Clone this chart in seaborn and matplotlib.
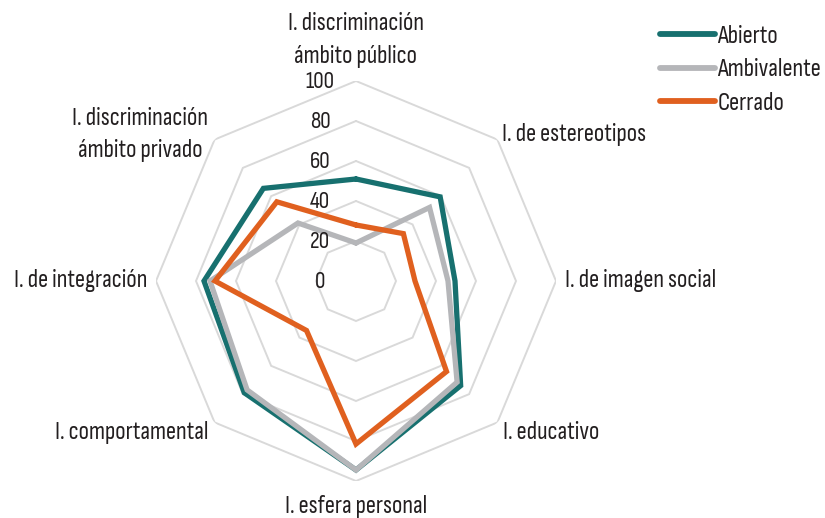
import numpy as np
import pandas as pd
import matplotlib
matplotlib.use("Agg")
import matplotlib.pyplot as plt
import matplotlib.transforms as mtransforms
from matplotlib import font_manager
import seaborn as sns

# Dimensions of the index, clockwise from the top
categorias = [
    "I. discriminación\námbito público",
    "I. de estereotipos",
    "I. de imagen social",
    "I. educativo",
    "I. esfera personal",
    "I. comportamental",
    "I. de integración",
    "I. discriminación\námbito privado",
]
abierto = [51, 59.5, 49.5, 74, 94.5, 79, 76, 65.5]
ambivalente = [19, 52, 46, 71.5, 94.5, 77, 73, 41]
cerrado = [28, 33.5, 29.5, 64, 81.5, 35, 70.5, 56]
grupos = ["Abierto", "Ambivalente", "Cerrado"]
colores = ["#17706f", "#b5b6b9", "#e0601f"]
ticks = [0, 20, 40, 60, 80, 100]

sns.set_theme(style="white")
disponibles = {f.name for f in font_manager.fontManager.ttflist}
preferidas = ["Sofia Sans Condensed", "Fira Sans Extra Condensed", "Roboto Condensed"]
familia = [f for f in preferidas if f in disponibles][:1] + ["DejaVu Sans"]
plt.rcParams["font.family"] = familia
texto = "#231f20"
fs = 18

n = len(categorias)
ang = np.arange(n) * 2 * np.pi / n
ang_c = np.append(ang, 2 * np.pi)

rows = []
for g, vals in zip(grupos, [abierto, ambivalente, cerrado]):
    v = list(vals) + [vals[0]]
    for i, (t, r) in enumerate(zip(ang_c, v)):
        rows.append({"grupo": g, "theta": t, "valor": r, "orden": i})
df = pd.DataFrame(rows)

fig = plt.figure(figsize=(8.25, 5.18), dpi=100)
W, H = 825, 518
cx, cy, R = 356, 281, 200
ax = fig.add_axes([(cx - R) / W, (H - cy - R) / H, 2 * R / W, 2 * R / H],
                  projection="polar")
ax.set_theta_offset(np.pi / 2)
ax.set_theta_direction(-1)
ax.set_ylim(0, 100)
ax.grid(False)
ax.spines["polar"].set_visible(False)
ax.set_xticks([])
ax.set_yticks([])
ax.set_facecolor("none")

# Octagonal grid rings
for t in ticks[1:]:
    ax.plot(ang_c, [t] * len(ang_c), color="#d9d9d9", lw=1.4, zorder=1,
            solid_joinstyle="miter")

sns.lineplot(data=df, x="theta", y="valor", hue="grupo", hue_order=grupos,
             palette=colores, sort=False, estimator=None, units="grupo",
             lw=3.8, ax=ax, zorder=3)
for line in ax.get_lines()[len(ticks) - 1:]:
    line.set_solid_joinstyle("miter")
ax.set_xlabel("")
ax.set_ylabel("")

# Radial value labels, left of the vertical axis
off = mtransforms.ScaledTranslation(-36 / 100, 0, fig.dpi_scale_trans)
for t in ticks:
    ax.text(0, t, str(t), transform=ax.transData + off, ha="center",
            va="center", fontsize=fs - 1, color=texto)

# Category labels around the chart (angle in degrees, radius, alignment)
lab_pos = [
    (0, 120.5, "center", "center"),
    (45, 103.5, "left", "center"),
    (90, 104.5, "left", "center"),
    (135.8, 105.4, "left", "center"),
    (180, 112.5, "center", "center"),
    (224.4, 105.7, "right", "center"),
    (270, 104.5, "right", "center"),
    (304.1, 130.4, "center", "center"),
]
for cat, (t, r, ha, va) in zip(categorias, lab_pos):
    ax.text(np.deg2rad(t), r, cat, ha=ha, va=va, fontsize=fs, color=texto,
            multialignment="center", linespacing=1.5)

sns.move_legend(ax, loc="upper left", bbox_to_anchor=(660 / W, 1 - 25 / H),
                bbox_transform=fig.transFigure, frameon=False, title=None,
                fontsize=fs, handlelength=2.2, handletextpad=0.1,
                labelspacing=0.42, borderpad=0, borderaxespad=0)
leg = ax.get_legend()
for h in leg.get_lines():
    h.set_linewidth(4.2)
    h.set_solid_capstyle("round")
for tx in leg.get_texts():
    tx.set_color(texto)

fig.savefig("out.png", dpi=100)
